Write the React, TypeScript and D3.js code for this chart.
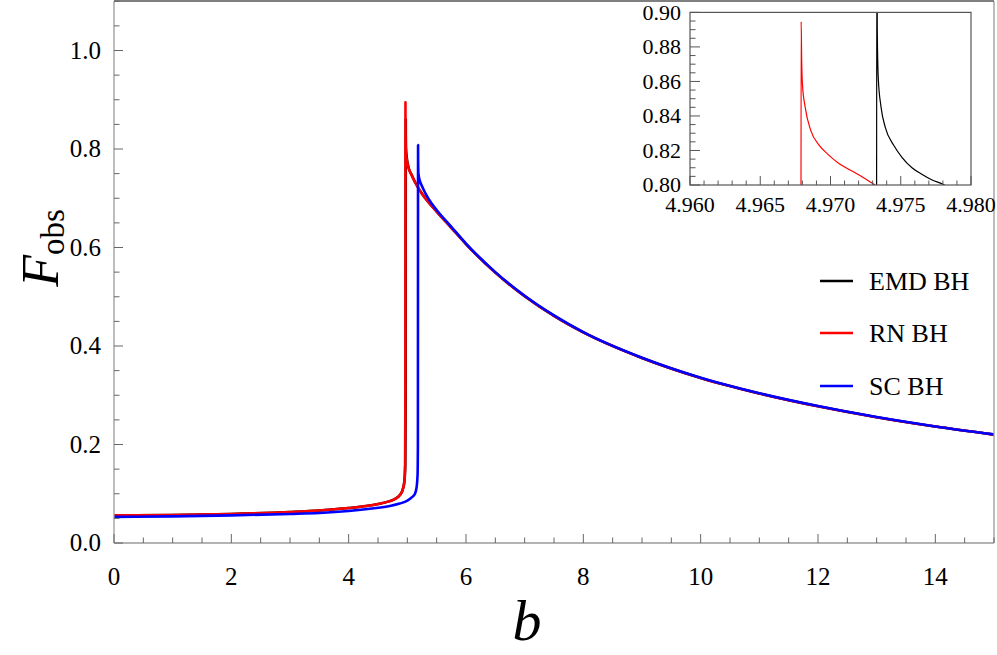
import React from 'react';
import * as d3 from 'd3';

const W = 997;
const H = 655;

// RN BH (red) main curve
const rnB = [0, 1, 2, 3, 3.5, 4, 4.3, 4.5, 4.7, 4.8, 4.87, 4.92, 4.95, 4.962, 4.967, 4.968, 4.969, 4.973, 4.985, 5.015, 5.07, 5.13, 5.25, 5.36, 5.5, 5.75, 6, 6.5, 7, 7.5, 8, 9, 10, 11, 12, 13, 14, 15];
const rnF = [0.056, 0.057, 0.059, 0.063, 0.066, 0.071, 0.075, 0.079, 0.085, 0.09, 0.097, 0.108, 0.125, 0.16, 0.3, 0.895, 0.84, 0.8, 0.783, 0.764, 0.748, 0.733, 0.709, 0.692, 0.673, 0.64, 0.607, 0.549, 0.501, 0.461, 0.4275, 0.3756, 0.335, 0.3036, 0.2775, 0.2554, 0.2364, 0.22];

// SC BH (blue) main curve
const scB = [0, 1, 2, 3, 3.5, 4, 4.4, 4.7, 4.87, 5.0, 5.08, 5.13, 5.16, 5.175, 5.18, 5.183, 5.1835, 5.186, 5.19, 5.21, 5.26, 5.36, 5.5, 5.75, 6, 6.5, 7, 7.5, 8, 9, 10, 11, 12, 13, 14, 15];
const scF = [0.053, 0.054, 0.056, 0.059, 0.061, 0.065, 0.07, 0.075, 0.08, 0.086, 0.093, 0.1, 0.115, 0.14, 0.2, 0.808, 0.78, 0.76, 0.749, 0.737, 0.722, 0.699, 0.676, 0.642, 0.608, 0.55, 0.502, 0.462, 0.428, 0.376, 0.3355, 0.304, 0.278, 0.2557, 0.2367, 0.2205];

// EMD BH (black) main curve, hidden under the red one
const emdB = [0, 1, 2, 3, 3.5, 4, 4.3, 4.5, 4.7, 4.8, 4.87, 4.92, 4.95, 4.965, 4.972, 4.9733, 4.974, 4.978, 4.99, 5.02, 5.07, 5.13, 5.25, 5.36, 5.5, 5.75, 6, 6.5, 7, 7.5, 8, 9, 10, 11, 12, 13, 14, 15];
const emdF = [0.056, 0.057, 0.059, 0.063, 0.066, 0.071, 0.075, 0.079, 0.085, 0.09, 0.097, 0.108, 0.125, 0.16, 0.3, 0.86, 0.83, 0.8, 0.783, 0.763, 0.748, 0.733, 0.709, 0.692, 0.673, 0.64, 0.607, 0.549, 0.501, 0.461, 0.4275, 0.3756, 0.335, 0.3036, 0.2775, 0.2554, 0.2364, 0.22];

// inset (zoom around the peaks)
const insetRnB = [4.9679, 4.96791, 4.96795, 4.968, 4.9682, 4.9686, 4.9692, 4.9698, 4.9706, 4.9715, 4.9723, 4.973, 4.9735];
const insetRnF = [0.78, 0.8946, 0.872, 0.8586, 0.845, 0.8315, 0.823, 0.8179, 0.8125, 0.8082, 0.8045, 0.8008, 0.798];
const insetEmdB = [4.97328, 4.9733, 4.97333, 4.9734, 4.9736, 4.9739, 4.9745, 4.9751, 4.9758, 4.9765, 4.9772, 4.978, 4.9785];
const insetEmdF = [0.78, 0.95, 0.89, 0.862, 0.845, 0.8334, 0.823, 0.8159, 0.81, 0.8062, 0.803, 0.8004, 0.798];

const mainXTicks = [0, 2, 4, 6, 8, 10, 12, 14];
const mainYTicks = [0, 0.2, 0.4, 0.6, 0.8, 1.0];
const insetXTicks = [4.96, 4.965, 4.97, 4.975, 4.98];
const insetYTicks = [0.8, 0.82, 0.84, 0.86, 0.88, 0.9];

const legendLabels = ['EMD BH', 'RN BH', 'SC BH'];
const legendColors = ['#000000', '#ff0000', '#0000ff'];

const FONT = "'Liberation Serif', 'Times New Roman', Times, serif";

const zip = (xs: number[], ys: number[]) => xs.map((x, i) => [x, ys[i]] as [number, number]);

export default function App() {
  // main plot scales
  const x = d3.scaleLinear().domain([0, 15]).range([114, 994]);
  const y = d3.scaleLinear().domain([0, 1.1]).range([543, 1.25]);

  // inset scales
  const ix = d3.scaleLinear().domain([4.96, 4.98]).range([690, 971]);
  const iy = d3.scaleLinear().domain([0.8, 0.9]).range([185, 12.4]);

  const line = d3.line<[number, number]>()
    .x(d => x(d[0]))
    .y(d => y(d[1]))
    .curve(d3.curveMonotoneX);

  const iline = d3.line<[number, number]>()
    .x(d => ix(d[0]))
    .y(d => iy(d[1]))
    .curve(d3.curveMonotoneX);

  const xMinor = d3.range(0, 15.001, 0.5).filter(v => Math.abs(v / 2 - Math.round(v / 2)) > 1e-6);
  const yMinor = d3.range(0, 1.1001, 0.05).filter(v => Math.abs(v / 0.2 - Math.round(v / 0.2)) > 1e-6);
  const ixMinor = d3.range(4.96, 4.98001, 0.001).filter(v => Math.abs((v - 4.96) / 0.005 - Math.round((v - 4.96) / 0.005)) > 1e-6);
  const iyMinor = d3.range(0.8, 0.90001, 0.005).filter(v => Math.abs((v - 0.8) / 0.02 - Math.round((v - 0.8) / 0.02)) > 1e-6);

  const [x0, x1] = x.range();
  const [y0, y1] = y.range();
  const [ix0, ix1] = ix.range();
  const [iy0, iy1] = iy.range();

  const legendY = [281, 333, 386];
  const txt = { fontFamily: FONT };

  return (
    <svg width={W} height={H} style={{ position: 'absolute', left: 0, top: 0, background: '#fff', fontFamily: FONT }}>
      <defs>
        <clipPath id="mainClip">
          <rect x={x0} y={y1} width={x1 - x0} height={y0 - y1} />
        </clipPath>
        <clipPath id="insetClip">
          <rect x={ix0} y={iy1} width={ix1 - ix0} height={iy0 - iy1} />
        </clipPath>
      </defs>

      {/* main curves */}
      <g clipPath="url(#mainClip)" fill="none" strokeWidth={2.6} strokeLinejoin="round">
        <path d={line(zip(emdB, emdF)) || ''} stroke="#000" />
        <path d={line(zip(rnB, rnF)) || ''} stroke="#ff0000" />
        <path d={line(zip(scB, scF)) || ''} stroke="#0000ff" />
      </g>

      {/* main frame */}
      <g stroke="#9a9a9a" strokeWidth={1.3} fill="none">
        <line x1={x0} y1={y0} x2={x1} y2={y0} />
        <line x1={x0} y1={y0} x2={x0} y2={y1} />
        <line x1={x1} y1={y0} x2={x1} y2={y1} />
      </g>
      <line x1={x0} y1={1} x2={x1} y2={1} stroke="#555" strokeWidth={1.3} />

      {/* main ticks */}
      <g stroke="#666" strokeWidth={1}>
        {mainXTicks.map(t => <line key={'mx' + t} x1={x(t)} x2={x(t)} y1={y0} y2={y0 - 9} />)}
        {xMinor.map(t => <line key={'mxm' + t} x1={x(t)} x2={x(t)} y1={y0} y2={y0 - 5.5} />)}
        {mainYTicks.map(t => <line key={'my' + t} x1={x0} x2={x0 + 9} y1={y(t)} y2={y(t)} />)}
        {yMinor.map(t => <line key={'mym' + t} x1={x0} x2={x0 + 5.5} y1={y(t)} y2={y(t)} />)}
      </g>
      <g fontSize={25} fill="#000">
        {mainXTicks.map(t => (
          <text key={'mxl' + t} style={txt} x={x(t)} y={585} textAnchor="middle">{d3.format('d')(t)}</text>
        ))}
        {mainYTicks.map(t => (
          <text key={'myl' + t} style={txt} x={x0 - 13} y={y(t)} dy="0.33em" textAnchor="end">{d3.format('.1f')(t)}</text>
        ))}
      </g>

      {/* axis labels */}
      <text style={txt} transform="translate(58,248) rotate(-90)" textAnchor="middle" fill="#000">
        <tspan fontSize={52} fontStyle="italic">F</tspan>
        <tspan fontSize={33} dy={6}>obs</tspan>
      </text>
      <text style={txt} x={527} y={640} textAnchor="middle" fontSize={58} fontStyle="italic" fill="#000">b</text>

      {/* legend */}
      {legendLabels.map((lab, i) => (
        <g key={lab}>
          <line x1={820} x2={853} y1={legendY[i]} y2={legendY[i]} stroke={legendColors[i]} strokeWidth={2.6} />
          <text style={txt} x={869} y={legendY[i]} dy="0.33em" fontSize={26} fill="#000">{lab}</text>
        </g>
      ))}

      {/* inset */}
      <rect x={ix0} y={iy1} width={ix1 - ix0} height={iy0 - iy1} fill="#fff" />
      <g clipPath="url(#insetClip)" fill="none" strokeWidth={1.2}>
        <path d={iline(zip(insetRnB, insetRnF)) || ''} stroke="#ff0000" />
        <path d={iline(zip(insetEmdB, insetEmdF)) || ''} stroke="#000" />
      </g>
      <rect x={ix0} y={iy1} width={ix1 - ix0} height={iy0 - iy1} fill="none" stroke="#555" strokeWidth={1.2} />
      <g stroke="#555" strokeWidth={1}>
        {insetXTicks.map(t => <line key={'ix' + t} x1={ix(t)} x2={ix(t)} y1={iy0} y2={iy0 - 9} />)}
        {ixMinor.map(t => <line key={'ixm' + t} x1={ix(t)} x2={ix(t)} y1={iy0} y2={iy0 - 4.5} />)}
        {insetYTicks.map(t => <line key={'iy' + t} x1={ix0} x2={ix0 + 10} y1={iy(t)} y2={iy(t)} />)}
        {iyMinor.map(t => <line key={'iym' + t} x1={ix0} x2={ix0 + 5.5} y1={iy(t)} y2={iy(t)} />)}
      </g>
      <g fontSize={22} fill="#000">
        {insetXTicks.map(t => (
          <text key={'ixl' + t} style={txt} x={ix(t)} y={212} textAnchor="middle">{d3.format('.3f')(t)}</text>
        ))}
        {insetYTicks.map(t => (
          <text key={'iyl' + t} style={txt} x={ix0 - 9} y={iy(t)} dy="0.33em" textAnchor="end">{d3.format('.2f')(t)}</text>
        ))}
      </g>
    </svg>
  );
}
